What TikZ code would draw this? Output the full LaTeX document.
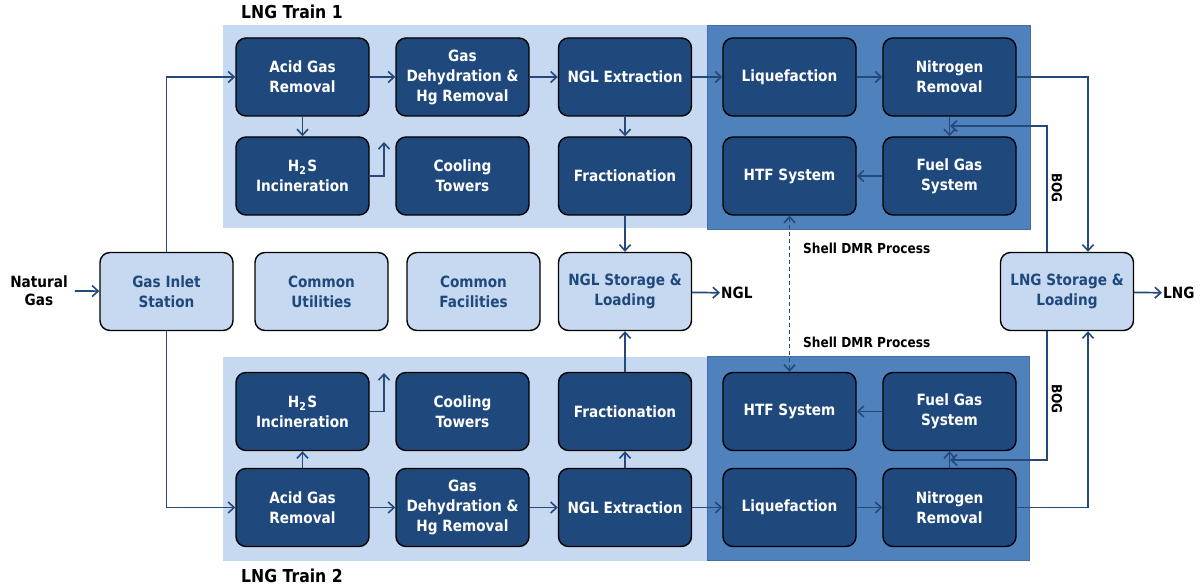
\documentclass[tikz,border=0pt]{standalone}
\usepackage{fontspec}
\setmainfont{DejaVu Sans}[FakeStretch=0.88]
\usetikzlibrary{arrows.meta,positioning,calc}
\definecolor{boxblue}{HTML}{1F497D}
\definecolor{trainbg}{HTML}{C6D9F1}
\definecolor{dmrbg}{HTML}{4F81BD}
\definecolor{linkblue}{HTML}{24497A}

\tikzset{
  proc/.style={draw=black,line width=1.4pt,fill=boxblue,rounded corners=10pt,
    minimum width=133pt,minimum height=78pt,align=center,text=white,
    font=\bfseries\fontsize{15.5}{20}\selectfont,inner sep=2pt},
  util/.style={proc,fill=trainbg,text=boxblue},
  flow/.style={-{Straight Barb[length=6pt,width=11pt,line width=1.6pt]},linkblue,line width=1.7pt},
  tag/.style={font=\bfseries\fontsize{15.5}{18}\selectfont,align=center,inner sep=1pt},
  note/.style={tag,font=\bfseries\fontsize{13.8}{16}\selectfont},
}

\begin{document}
\begin{tikzpicture}[x=1pt,y=-1pt]
  \useasboundingbox (0,0) rectangle (1203,585);
  \fill[trainbg] (223,25) rectangle (708,228);   % train 1
  \fill[trainbg] (223,357) rectangle (708,561);  % train 2
  \filldraw[fill=dmrbg,draw=dmrbg!85!black,line width=0.6pt] (707,25) rectangle (1030,229);   % DMR 1
  \filldraw[fill=dmrbg,draw=dmrbg!85!black,line width=0.6pt] (707,356) rectangle (1029,560);  % DMR 2
  \node[tag,anchor=west,font=\bfseries\fontsize{17.8}{20}\selectfont] (train1) at (240,12) {LNG Train 1};
  \node[tag,anchor=west,font=\bfseries\fontsize{17.8}{20}\selectfont] (train2) at (240,576) {LNG Train 2};

  % train 1
  \node[proc] (agr1) at (302.5,77) {Acid Gas\\Removal};
  \node[proc] (gdh1) at (462.5,77) {Gas\\Dehydration \&\\Hg Removal};
  \node[proc] (ngl1) at (625,77) {NGL Extraction};
  \node[proc] (liq1) at (789.5,77) {Liquefaction};
  \node[proc] (nit1) at (949.5,77) {Nitrogen\\Removal};
  \node[proc] (h2s1) at (302.5,176) {H$_\mathbf{2}$S\\Incineration};
  \node[proc] (cool1) at (462.5,176) {Cooling\\Towers};
  \node[proc] (frac1) at (625,176) {Fractionation};
  \node[proc] (htf1) at (789.5,176) {HTF System};
  \node[proc] (fg1) at (949.5,176) {Fuel Gas\\System};

  % common
  \node[util] (inlet) at (166.5,291.5) {Gas Inlet\\Station};
  \node[util] (util) at (321.5,291.5) {Common\\Utilities};
  \node[util] (fac) at (473.5,291.5) {Common\\Facilities};
  \node[util] (nglst) at (625,291.5) {NGL Storage \&\\Loading};
  \node[util] (lngst) at (1067,291.5) {LNG Storage \&\\Loading};

  % train 2
  \node[proc] (h2s2) at (302.5,411.5) {H$_\mathbf{2}$S\\Incineration};
  \node[proc] (cool2) at (462.5,411.5) {Cooling\\Towers};
  \node[proc] (frac2) at (625,411.5) {Fractionation};
  \node[proc] (htf2) at (789.5,411.5) {HTF System};
  \node[proc] (fg2) at (949.5,411.5) {Fuel Gas\\System};
  \node[proc] (agr2) at (302.5,507.5) {Acid Gas\\Removal};
  \node[proc] (gdh2) at (462.5,507.5) {Gas\\Dehydration \&\\Hg Removal};
  \node[proc] (ngl2) at (625,507.5) {NGL Extraction};
  \node[proc] (liq2) at (789.5,507.5) {Liquefaction};
  \node[proc] (nit2) at (949.5,507.5) {Nitrogen\\Removal};

  % feeds and products
  \node[tag] (ng) at (39,291) {Natural\\Gas};
  \node[tag,anchor=west] (nglout) at (720,293) {NGL};
  \node[tag,anchor=west] (lngout) at (1162,293) {LNG};
  \node[note,anchor=west] (dmr1) at (802,248) {Shell DMR Process};
  \node[note,anchor=west] (dmr2) at (802,342) {Shell DMR Process};
  \node[note,rotate=-90] (bogl1) at (1057,188) {BOG};
  \node[note,rotate=-90] (bogl2) at (1057,399) {BOG};
  \coordinate (vent1) at (384,142);
  \coordinate (vent2) at (384,373);
  \coordinate (bog1) at (950,126);
  \coordinate (bog2) at (950,460);

  \draw[flow] ([xshift=6pt]ng.east) -- (inlet);
  \draw[flow] (inlet.north) |- (agr1.west);
  \draw[flow] (inlet.south) |- (agr2.west);
  \draw[flow] (nglst) -- (nglout);
  \draw[flow] (lngst) -- (lngout);

  % train 1 flows
  \draw[flow] (agr1) -- (gdh1);
  \draw[flow] (gdh1) -- (ngl1);
  \draw[flow] (ngl1) -- (liq1);
  \draw[flow] (liq1) -- (nit1);
  \draw[flow] (agr1) -- (h2s1);
  \draw[flow] (h2s1.east) -| (vent1);
  \draw[flow] (ngl1) -- (frac1);
  \draw[flow] (frac1) -- (nglst);
  \draw[flow] (nit1) -- (fg1);
  \draw[flow] (fg1) -- (htf1);
  \draw[flow] (nit1.east) -| ([xshift=21pt]lngst.north);
  \draw[flow] ([xshift=-20pt]lngst.north) |- (bog1);

  % train 2 flows
  \draw[flow] (agr2) -- (gdh2);
  \draw[flow] (gdh2) -- (ngl2);
  \draw[flow] (ngl2) -- (liq2);
  \draw[flow] (liq2) -- (nit2);
  \draw[flow] (agr2) -- (h2s2);
  \draw[flow] (h2s2.east) -| (vent2);
  \draw[flow] (ngl2) -- (frac2);
  \draw[flow] (frac2) -- (nglst);
  \draw[flow] (nit2) -- (fg2);
  \draw[flow] (fg2) -- (htf2);
  \draw[flow] (nit2.east) -| ([xshift=21pt]lngst.south);
  \draw[flow] ([xshift=-20pt]lngst.south) |- (bog2);

  \draw[flow,{Straight Barb[length=6pt,width=11pt,line width=1.6pt]}-{Straight Barb[length=6pt,width=11pt,line width=1.6pt]},dash pattern=on 4pt off 3pt] (htf1) -- (htf2);
\end{tikzpicture}
\end{document}
